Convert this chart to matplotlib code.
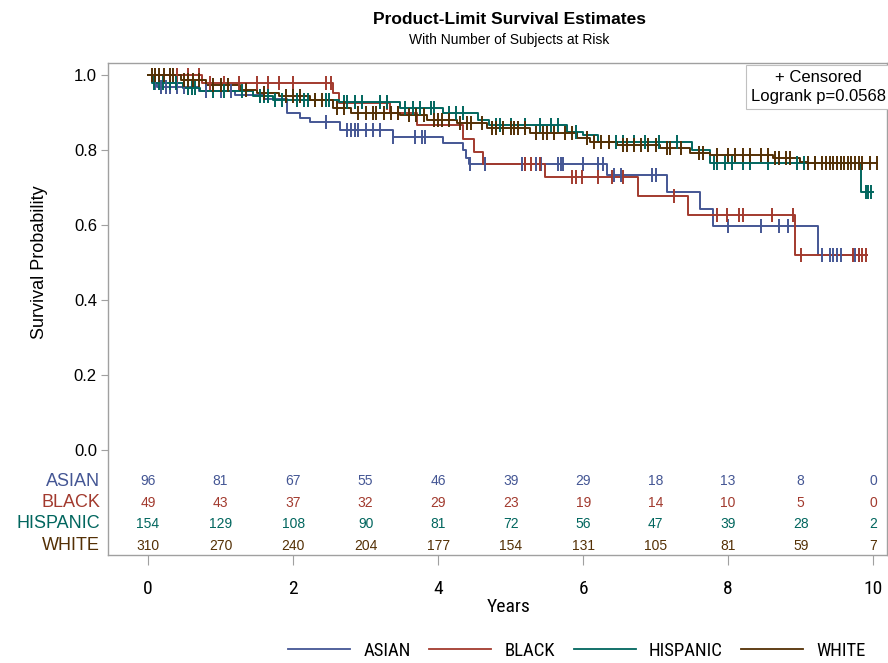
import matplotlib
matplotlib.use("Agg")
import matplotlib.pyplot as plt
import numpy as np
from matplotlib.lines import Line2D
from matplotlib.font_manager import FontProperties

plt.rcParams['font.family'] = ['Liberation Sans', 'DejaVu Sans']
NARROW = ['Roboto Condensed', 'Liberation Sans Narrow', 'DejaVu Sans']

groups = ["ASIAN", "BLACK", "HISPANIC", "WHITE"]
colors = ["#445694", "#A23A2E", "#01665E", "#543005"]

# step curves (time, survival)
asian_t = [0, 0.07, 0.12, 0.7, 1.2, 1.6, 1.91, 2.1, 2.24, 2.65, 3.38, 4.07, 4.34, 4.38, 4.42, 6.33, 7.16, 7.61, 7.79, 9.24, 9.92]
asian_s = [1.0, 0.979, 0.969, 0.958, 0.947, 0.936, 0.899, 0.885, 0.875, 0.853, 0.835, 0.818, 0.80, 0.78, 0.763, 0.733, 0.688, 0.643, 0.597, 0.52, 0.52]
black_t = [0, 0.74, 2.55, 2.64, 3.33, 3.71, 4.34, 4.50, 4.62, 5.48, 6.76, 7.45, 8.92, 9.92]
black_s = [1.0, 0.979, 0.952, 0.925, 0.90, 0.867, 0.83, 0.796, 0.763, 0.728, 0.677, 0.627, 0.52, 0.52]
hisp_t = [0, 0.05, 0.48, 0.72, 1.45, 1.72, 2.64, 3.48, 4.07, 4.55, 4.70, 5.78, 6.0, 6.2, 7.5, 7.75, 9.83, 10.0]
hisp_s = [1.0, 0.98, 0.965, 0.957, 0.944, 0.933, 0.928, 0.912, 0.90, 0.88, 0.867, 0.848, 0.84, 0.821, 0.80, 0.765, 0.688, 0.688]
white_t = [0, 0.45, 0.8, 1.27, 1.5, 1.8, 2.23, 2.55, 2.8, 3.48, 3.85, 4.26, 4.68, 5.27, 5.92, 6.1, 6.47, 7.06, 7.48, 7.75, 8.62, 8.99, 9.08, 10.05]
white_s = [1.0, 0.987, 0.973, 0.96, 0.952, 0.944, 0.933, 0.912, 0.90, 0.893, 0.88, 0.872, 0.859, 0.845, 0.832, 0.821, 0.813, 0.805, 0.792, 0.787, 0.779, 0.768, 0.765, 0.765]

# censoring times
asian_c = [0.1, 0.18, 0.25, 0.3, 0.4, 0.5, 0.8, 1.0, 1.15, 2.45, 2.74, 2.8, 2.85, 2.9, 3.0, 3.1, 3.2, 3.38, 3.68, 3.78, 3.82,
           4.44, 4.65, 5.15, 5.2, 5.35, 5.42, 5.65, 5.7, 5.72, 6.0, 6.2, 6.27, 6.42, 6.52, 6.95, 7.0, 8.0, 8.45, 8.7, 8.83,
           9.3, 9.4, 9.45, 9.5, 9.55, 9.75, 9.8]
black_c = [0.3, 0.4, 0.55, 0.7, 0.85, 1.05, 1.25, 1.5, 1.65, 1.8, 2.0, 2.45, 2.52, 3.3, 3.45, 5.2, 5.28, 5.4, 5.85, 5.9,
           5.98, 6.2, 6.4, 6.55, 7.25, 7.85, 7.98, 8.15, 8.2, 8.6, 8.9, 9.0, 9.72, 9.8, 9.85, 9.9]
hisp_c = [0.08, 0.15, 0.2, 0.3, 0.38, 0.55, 0.6, 0.65, 0.9, 1.05, 1.3, 1.55, 1.6, 1.65, 1.75, 1.85, 2.05, 2.15, 2.2, 2.3,
          2.45, 2.5, 2.7, 2.75, 2.85, 2.95, 3.2, 3.3, 3.55, 3.65, 3.75, 3.9, 3.95, 4.15, 4.25, 4.35, 4.8, 4.85, 5.0, 5.2,
          5.4, 5.55, 5.65, 5.9, 6.45, 6.55, 6.7, 6.85, 7.05, 7.3, 7.8, 7.85, 7.95, 8.05, 8.2, 8.3, 8.55, 8.95, 9.05, 9.2,
          9.55, 9.9, 9.93, 9.97]
white_c = [0.05, 0.1, 0.15, 0.22, 0.3, 0.35, 0.5, 0.55, 0.62, 0.7, 0.9, 1.0, 1.1, 1.35, 1.6, 1.9, 2.0, 2.1, 2.3, 2.4,
           2.6, 2.7, 2.9, 3.0, 3.1, 3.15, 3.25, 3.35, 3.45, 3.6, 3.7, 3.8, 3.95, 4.0, 4.05, 4.15, 4.3, 4.4, 4.45, 4.6,
           4.75, 4.8, 4.9, 5.0, 5.05, 5.1, 5.2, 5.35, 5.45, 5.5, 5.6, 5.75, 5.85, 6.05, 6.15, 6.25, 6.35, 6.55, 6.6,
           6.7, 6.8, 6.9, 7.0, 7.15, 7.2, 7.35, 7.6, 7.65, 7.85, 8.0, 8.1, 8.2, 8.3, 8.45, 8.55, 8.65, 8.7, 8.8, 8.85,
           9.1, 9.2, 9.3, 9.35, 9.4, 9.45, 9.5, 9.55, 9.6, 9.65, 9.7, 9.75, 9.8, 9.85, 9.95, 10.05]

risk_times = [0, 1, 2, 3, 4, 5, 6, 7, 8, 9, 10]
asian_risk = [96, 81, 67, 55, 46, 39, 29, 18, 13, 8, 0]
black_risk = [49, 43, 37, 32, 29, 23, 19, 14, 10, 5, 0]
hisp_risk = [154, 129, 108, 90, 81, 72, 56, 47, 39, 28, 2]
white_risk = [310, 270, 240, 204, 177, 154, 131, 105, 81, 59, 7]

curves = [(asian_t, asian_s, asian_c), (black_t, black_s, black_c),
          (hisp_t, hisp_s, hisp_c), (white_t, white_s, white_c)]
risks = [asian_risk, black_risk, hisp_risk, white_risk]
row_y = [-0.083, -0.141, -0.197, -0.256]

narrow = FontProperties(family=NARROW, stretch='condensed', size=14)
narrow_leg = FontProperties(family=NARROW, stretch='condensed', size=13.5)

fig = plt.figure(figsize=(8.88, 6.63), dpi=100)
ax = fig.add_axes([108/888, 108/663, 779/888, 492/663])

for (t, s, c), col in zip(curves, colors):
    t = np.array(t); s = np.array(s)
    ax.step(t, s, where='post', color=col, lw=1.4, zorder=3)
    idx = np.searchsorted(t, np.array(c), side='right') - 1
    ax.plot(c, s[idx], ls='none', marker='|', ms=10, mew=1.4, color=col, zorder=4)

ax.set_xlim(-0.552, 10.19)
ax.set_ylim(-0.28, 1.032)
ax.set_yticks([0, 0.2, 0.4, 0.6, 0.8, 1.0])
ax.set_yticklabels(["0.0", "0.2", "0.4", "0.6", "0.8", "1.0"], fontsize=12)
ax.set_xticks([0, 2, 4, 6, 8, 10])
ax.set_xticklabels(["0", "2", "4", "6", "8", "10"], fontproperties=narrow)
ax.tick_params(axis='y', length=5, color='#A0A0A0', pad=3)
ax.tick_params(axis='x', length=7, color='#A0A0A0', pad=11)
for sp in ax.spines.values():
    sp.set_color('#A0A0A0')
    sp.set_linewidth(1.0)

# number at risk table inside the frame
for g, col, r, yy in zip(groups, colors, risks, row_y):
    ax.text(-0.66, yy, g, color=col, fontsize=13, ha='right', va='center', clip_on=False)
    for tt, n in zip(risk_times, r):
        ax.text(tt, yy, str(n), color=col, fontsize=10, ha='center', va='center')

ax.text(0.999, 0.985, "+ Censored\nLogrank p=0.0568", transform=ax.transAxes, ha='right', va='top',
        fontsize=12, linespacing=1.3, multialignment='center',
        bbox=dict(boxstyle='square,pad=0.3', fc='white', ec='#C0C0C0', lw=0.8))

fig.text(0.045, 0.605, "Survival Probability", rotation=90, ha='center', va='center', fontsize=13)
fig.text(509/888, 1 - 607/663, "Years", ha='center', va='center', fontproperties=narrow)
fig.text(509/888, 1 - 20/663, "Product-Limit Survival Estimates", ha='center', va='center',
         fontsize=12.5, fontweight='bold')
fig.text(509/888, 1 - 40/663, "With Number of Subjects at Risk", ha='center', va='center', fontsize=10)

handles = [Line2D([0], [0], color=c, lw=1.3) for c in colors]
leg = fig.legend(handles, groups, loc='center', bbox_to_anchor=(577/888, 1 - 651/663), ncol=4,
                 frameon=False, handlelength=3.3, handletextpad=0.7, columnspacing=1.0,
                 prop=narrow_leg)

fig.savefig("out.png", dpi=100)
